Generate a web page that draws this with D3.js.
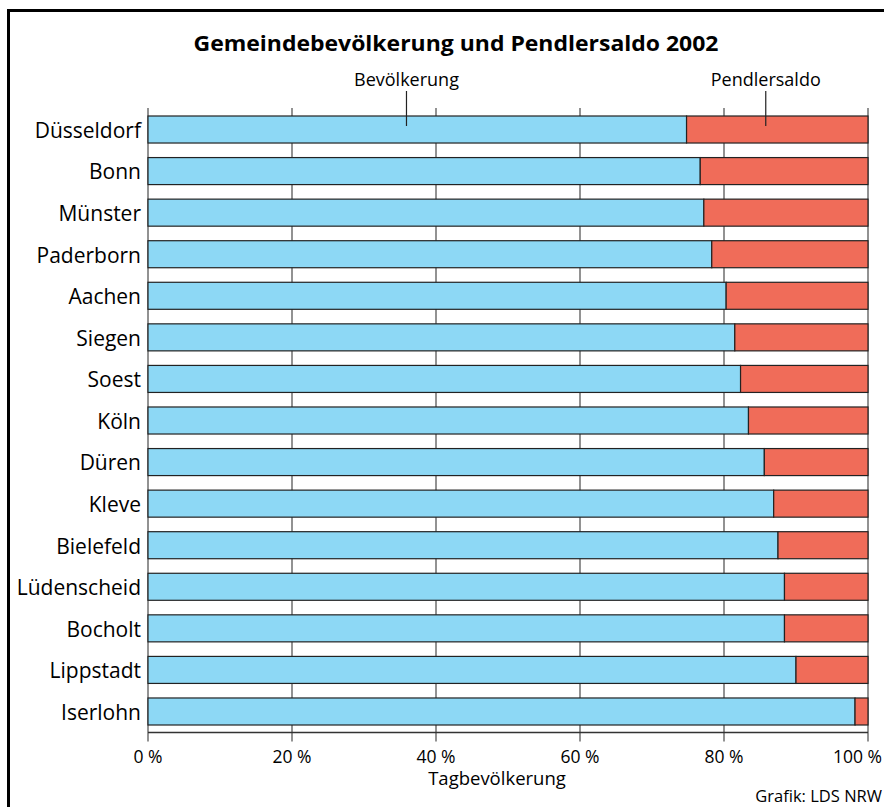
<!DOCTYPE html>
<html>
<head>
<meta charset="utf-8">
<script src="https://cdn.jsdelivr.net/npm/d3@7"></script>
<style>
  html, body { margin: 0; padding: 0; background: #fff; }
  svg { display: block; font-family: "Open Sans", "Noto Sans", sans-serif; }
</style>
</head>
<body>
<svg id="chart" width="884" height="807"></svg>
<script>
// Gemeinden, sortiert nach Anteil der Wohnbevölkerung an der Tagbevölkerung
const cities = ["Düsseldorf", "Bonn", "Münster", "Paderborn", "Aachen", "Siegen", "Soest",
  "Köln", "Düren", "Kleve", "Bielefeld", "Lüdenscheid", "Bocholt", "Lippstadt", "Iserlohn"];
// Anteil Bevölkerung an der Tagbevölkerung (%)
const bevoelkerung = [74.8, 76.7, 77.2, 78.3, 80.3, 81.5, 82.3, 83.4, 85.6, 86.9, 87.5, 88.4, 88.4, 90.0, 98.2];
// Anteil Pendlersaldo an der Tagbevölkerung (%)
const pendlersaldo = [25.2, 23.3, 22.8, 21.7, 19.7, 18.5, 17.7, 16.6, 14.4, 13.1, 12.5, 11.6, 11.6, 10.0, 1.8];
const tickValues = [0, 20, 40, 60, 80, 100];
const seriesNames = ["Bevölkerung", "Pendlersaldo"];
const colors = ["#8dd8f5", "#f06c59"];

const svg = d3.select("#chart");

// Rahmen
svg.append("rect")
  .attr("x", 8.5).attr("y", 10.5)
  .attr("width", 900).attr("height", 900)
  .attr("fill", "none").attr("stroke", "#000").attr("stroke-width", 3);

const x = d3.scaleLinear().domain([0, 100]).range([148, 868]);
const y = d3.scaleBand().domain(cities).range([116, 725]).paddingInner(0.35).paddingOuter(0);

// Titel
svg.append("text")
  .attr("x", 456).attr("y", 51)
  .attr("text-anchor", "middle")
  .attr("font-weight", "bold").attr("font-size", 21)
  .attr("textLength", 525).attr("lengthAdjust", "spacingAndGlyphs")
  .text("Gemeindebevölkerung und Pendlersaldo 2002");

// Gitterlinien
const gridTop = 108, axisY = 732.5;
svg.append("g").selectAll("line").data(tickValues).join("line")
  .attr("x1", d => x(d)).attr("x2", d => x(d))
  .attr("y1", gridTop).attr("y2", axisY + 9)
  .attr("stroke", "#6e6e6e").attr("stroke-width", 1.5);

// Achsenlinie unten
svg.append("line")
  .attr("x1", x(0)).attr("x2", x(100))
  .attr("y1", axisY).attr("y2", axisY)
  .attr("stroke", "#333").attr("stroke-width", 1.5);

// Gestapelte Balken
const stackData = cities.map((c, i) => ({ city: c, Bevölkerung: bevoelkerung[i], Pendlersaldo: pendlersaldo[i] }));
const stacked = d3.stack().keys(seriesNames)(stackData);

svg.append("g").selectAll("g").data(stacked).join("g")
  .attr("fill", (d, i) => colors[i])
  .selectAll("rect").data(d => d).join("rect")
  .attr("x", d => x(d[0]))
  .attr("y", d => y(d.data.city))
  .attr("width", d => x(d[1]) - x(d[0]))
  .attr("height", y.bandwidth())
  .attr("stroke", "#222").attr("stroke-width", 1.2);

// Kategorienbeschriftung
svg.append("g").selectAll("text").data(cities).join("text")
  .attr("x", 141)
  .attr("y", d => y(d) + y.bandwidth() / 2)
  .attr("dy", "0.4em")
  .attr("text-anchor", "end")
  .attr("font-size", 21)
  .text(d => d);

// Achsenbeschriftung (letzte Marke rechtsbündig am Rand)
svg.append("g").selectAll("text").data(tickValues).join("text")
  .attr("x", d => d === 100 ? 882 : x(d))
  .attr("y", 763)
  .attr("text-anchor", d => d === 100 ? "end" : "middle")
  .attr("font-size", 17.5)
  .text(d => d + " %");

svg.append("text")
  .attr("x", 497).attr("y", 785)
  .attr("text-anchor", "middle")
  .attr("font-size", 18.5)
  .text("Tagbevölkerung");

svg.append("text")
  .attr("x", 882).attr("y", 802)
  .attr("text-anchor", "end")
  .attr("font-size", 16.5)
  .text("Grafik: LDS NRW");

// Legendenbeschriftung mit Hinweislinien
const legendX = [x(35.9), x(85.8)];
const legend = svg.append("g");
legend.selectAll("text").data(seriesNames).join("text")
  .attr("x", (d, i) => legendX[i])
  .attr("y", 86)
  .attr("text-anchor", "middle")
  .attr("font-size", 18)
  .text(d => d);
legend.selectAll("line").data(seriesNames).join("line")
  .attr("x1", (d, i) => legendX[i]).attr("x2", (d, i) => legendX[i])
  .attr("y1", 91).attr("y2", 126)
  .attr("stroke", "#222").attr("stroke-width", 1.2);
</script>
</body>
</html>
